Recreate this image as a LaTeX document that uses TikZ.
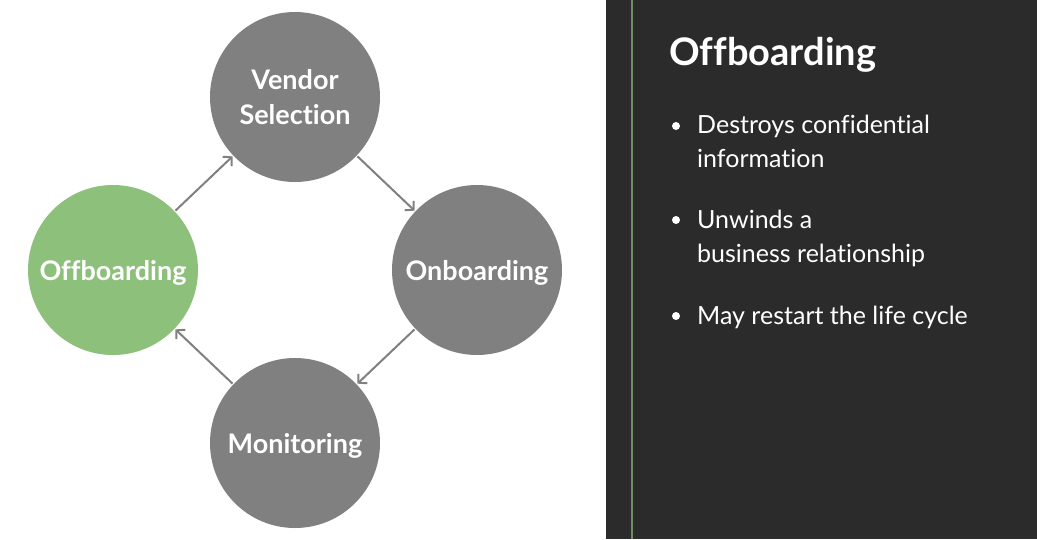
\documentclass[tikz,border=0pt]{standalone}
\usepackage{fontspec}
\setmainfont{Lato}[Ligatures=NoCommon]
\usetikzlibrary{arrows.meta}
\usetikzlibrary{positioning, calc}

\definecolor{stagegray}{HTML}{808080}
\definecolor{stagegreen}{HTML}{8DC07B}
\definecolor{panel}{HTML}{2B2B2B}
\definecolor{panelline}{HTML}{6E8F62}

\begin{document}
\begin{tikzpicture}[x=1pt, y=-1pt,
    stage/.style={circle, fill=stagegray, minimum size=170pt, inner sep=0pt, text=white, font=\fontsize{27}{35}\selectfont\bfseries, align=center},
    cycle arrow/.style={stagegray, line width=2pt, -{Straight Barb[length=6pt, width=13pt]}, shorten <=1pt, shorten >=1pt},
    bullet/.style={circle, fill=white, minimum size=8pt, inner sep=0pt},
    item/.style={anchor=base west, text=white, inner sep=0pt, font=\fontsize{25}{34}\selectfont, align=left}
]
    \useasboundingbox (0,0) rectangle (1037,539);
    \fill[white] (0,0) rectangle (606,539);
    \fill[panel] (606,0) rectangle (1037,539);
    \draw[panelline, line width=2pt] (632,0) coordinate (l0) -- (632,539) coordinate (l1);

    % life cycle
    \node[stage] (vendor) at (295,97) {Vendor\\Selection};
    \node[stage, text depth=0pt] (onboard) at (477,270) {Onboarding};
    \node[stage, text depth=0pt] (monitor) at (295,443) {Monitoring};
    \node[stage, text depth=0pt, fill=stagegreen] (offboard) at (113,270) {Offboarding};

    \draw[cycle arrow] (offboard) -- (vendor);
    \draw[cycle arrow] (vendor) -- (onboard);
    \draw[cycle arrow] (onboard) -- (monitor);
    \draw[cycle arrow] (monitor) -- (offboard);

    % side panel
    \node[item, font=\fontsize{38}{40}\selectfont\bfseries] (title) at (669,65) {Offboarding};

    % bullet y / baseline of last line
    \foreach \txt/\y/\yb [count=\i] in {{Destroys confidential\\information}/126/167, {Unwinds a\\business relationship}/220/262, {May restart the life cycle}/316/324} {
        \node[bullet] (b\i) at (676,\y) {};
        \node[item] (t\i) at (697,\yb) {\txt};
    }
\end{tikzpicture}
\end{document}
